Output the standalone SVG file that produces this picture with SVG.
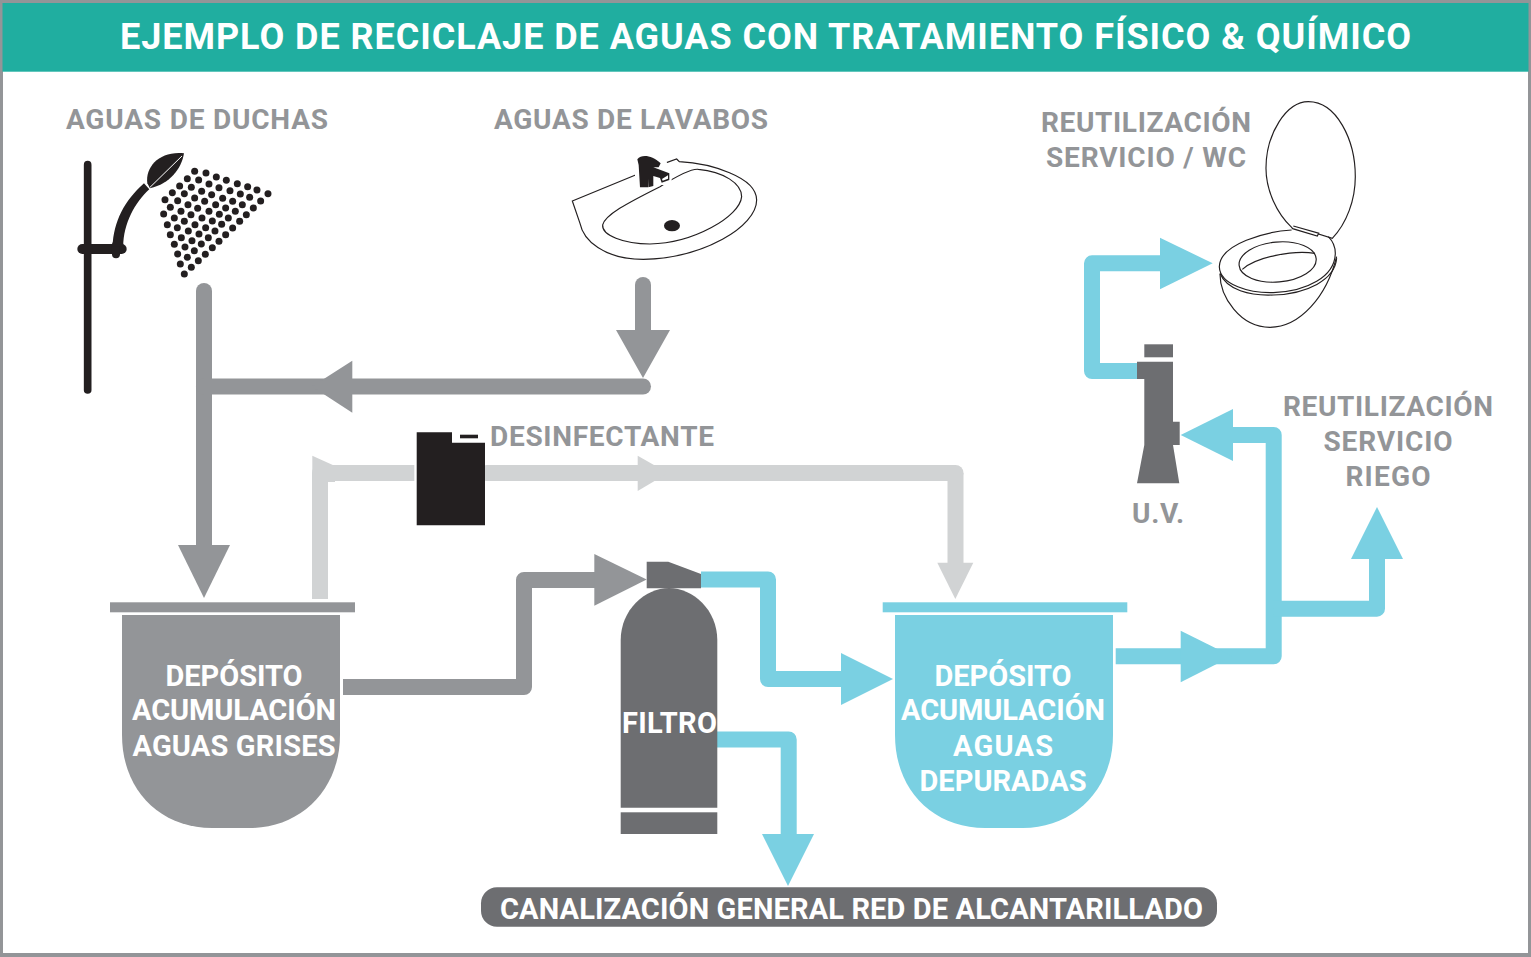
<svg xmlns="http://www.w3.org/2000/svg" width="1531" height="957" viewBox="0 0 1531 957">
<style>
text{font-family:"Roboto","Liberation Sans",sans-serif;font-weight:700;text-anchor:middle}
.lb{fill:#939598;font-size:28px}
.w{fill:#fff;font-size:29px}
.pg,.pl,.pb{fill:none;stroke-width:16;stroke-linejoin:round}
.pg{stroke:#939598}.pl{stroke:#d1d3d4}.pb{stroke:#7ad0e2}
.ag{fill:#939598}.al{fill:#d1d3d4}.ab{fill:#7ad0e2}
.dk{fill:#6d6e71}
.ln{fill:none;stroke:#231f20;stroke-width:3.500}
</style>
<rect x="1.5" y="1.5" width="1528" height="953" fill="#fff" stroke="#939598" stroke-width="3"/>
<rect x="0" y="953" width="1531" height="4" fill="#939598"/>
<g id="title"><rect x="2.500" y="3" width="1526" height="68.700" fill="#20aea0"/>
<text x="765.500" y="48.500" fill="#fff" font-size="36" textLength="1291" lengthAdjust="spacing">EJEMPLO DE RECICLAJE DE AGUAS CON TRATAMIENTO FÍSICO &amp; QUÍMICO</text></g>

<g id="connectors">
<path class="pg" stroke-linecap="round" d="M204 291V550"/>
<path class="pg" d="M643 285V335" stroke-linecap="round"/>
<path class="pg" stroke-linecap="round" d="M643 386.500H204"/>
<path class="pg" d="M343 687H524V580H600"/>
<path class="pl" d="M320 599V473H414.300"/>
<path class="al" d="M312.300 455.700L335 466V482H312.300Z"/>
<path class="pl" stroke-linecap="round" d="M486.700 473H955.500"/>
<path class="pl" d="M955.500 473V570"/>
<path class="pb" d="M701 579.500H768V679H850"/>
<path class="pb" d="M717 739.500H788.700V840"/>
<path class="pb" d="M1115.700 656.300H1273.700V435H1225"/>
<path class="pb" d="M1273.700 608.700H1377V550"/>
<path class="pb" d="M1140 371H1092V263.300H1170"/>
<path class="ag" d="M178 545H230L204 598Z"/>
<path class="ag" d="M616 330H670L643 378Z"/>
<path class="ag" d="M352.300 360.700V412.700L312 386.500Z"/>
<path class="ag" d="M594.300 554V605.700L646.700 579.500Z"/>
<path class="al" d="M637.700 455.700V491L668 473Z"/>
<path class="al" d="M937.300 562.700H973.300L955.300 599Z"/>
<path class="ab" d="M841 653V705L893 679Z"/>
<path class="ab" d="M762 834H814L788 886Z"/>
<path class="ab" d="M1180.700 630.700V682.300L1232 656.300Z"/>
<path class="ab" d="M1233 409V461L1180.700 435Z"/>
<path class="ab" d="M1351 559H1403L1377 507Z"/>
<path class="ab" d="M1160 237.700V289.300L1212.700 263.300Z"/>
</g>

<g id="shower"><text class="lb" x="197" y="128.500" textLength="262" lengthAdjust="spacing">AGUAS DE DUCHAS</text>
<g transform="translate(60 130) scale(.3333)" fill="#231f20">
<path d="M83 104V780" stroke="#231f20" stroke-width="23" stroke-linecap="round"/>
<path d="M67 357H185" stroke="#231f20" stroke-width="30" stroke-linecap="round"/>
<path d="M168 345V373" stroke="#231f20" stroke-width="24" stroke-linecap="round"/>
<path d="M158 350C160 275 195 210 252 160L268 178C225 218 190 280 190 350Z"/>
<path d="M262 160C255 110 300 62 372 70C365 115 330 162 270 175Z"/>
<path d="M270 172L366 78" stroke="#fff" stroke-width="3"/>
<g>
<circle cx="315" cy="209" r="10.500"/><circle cx="337" cy="188" r="10.500"/><circle cx="359" cy="168" r="10.500"/><circle cx="382" cy="146" r="10.500"/><circle cx="404" cy="124" r="10.500"/>
<circle cx="311" cy="252" r="10.500"/><circle cx="331" cy="232" r="10.500"/><circle cx="353" cy="212" r="10.500"/><circle cx="373" cy="191" r="10.500"/><circle cx="394" cy="172" r="10.500"/><circle cx="416" cy="150" r="10.500"/><circle cx="438" cy="129" r="10.500"/>
<circle cx="322" cy="284" r="10.500"/><circle cx="343" cy="264" r="10.500"/><circle cx="363" cy="244" r="10.500"/><circle cx="384" cy="224" r="10.500"/><circle cx="404" cy="204" r="10.500"/><circle cx="425" cy="184" r="10.500"/><circle cx="447" cy="162" r="10.500"/><circle cx="469" cy="141" r="10.500"/>
<circle cx="331" cy="314" r="10.500"/><circle cx="352" cy="293" r="10.500"/><circle cx="373" cy="274" r="10.500"/><circle cx="393" cy="254" r="10.500"/><circle cx="413" cy="235" r="10.500"/><circle cx="434" cy="214" r="10.500"/><circle cx="455" cy="194" r="10.500"/><circle cx="477" cy="173" r="10.500"/><circle cx="499" cy="151" r="10.500"/>
<circle cx="343" cy="343" r="10.500"/><circle cx="364" cy="323" r="10.500"/><circle cx="385" cy="303" r="10.500"/><circle cx="405" cy="284" r="10.500"/><circle cx="426" cy="264" r="10.500"/><circle cx="447" cy="244" r="10.500"/><circle cx="467" cy="224" r="10.500"/><circle cx="488" cy="205" r="10.500"/><circle cx="510" cy="182" r="10.500"/><circle cx="532" cy="161" r="10.500"/>
<circle cx="353" cy="372" r="10.500"/><circle cx="375" cy="351" r="10.500"/><circle cx="396" cy="332" r="10.500"/><circle cx="417" cy="312" r="10.500"/><circle cx="437" cy="293" r="10.500"/><circle cx="457" cy="273" r="10.500"/><circle cx="478" cy="253" r="10.500"/><circle cx="497" cy="234" r="10.500"/><circle cx="518" cy="214" r="10.500"/><circle cx="541" cy="192" r="10.500"/><circle cx="563" cy="170" r="10.500"/>
<circle cx="361" cy="402" r="10.500"/><circle cx="382" cy="382" r="10.500"/><circle cx="403" cy="362" r="10.500"/><circle cx="424" cy="342" r="10.500"/><circle cx="445" cy="323" r="10.500"/><circle cx="465" cy="303" r="10.500"/><circle cx="485" cy="283" r="10.500"/><circle cx="505" cy="264" r="10.500"/><circle cx="526" cy="244" r="10.500"/><circle cx="547" cy="224" r="10.500"/><circle cx="569" cy="202" r="10.500"/><circle cx="591" cy="180" r="10.500"/>
<circle cx="373" cy="432" r="10.500"/><circle cx="394" cy="412" r="10.500"/><circle cx="415" cy="392" r="10.500"/><circle cx="436" cy="373" r="10.500"/><circle cx="457" cy="353" r="10.500"/><circle cx="477" cy="334" r="10.500"/><circle cx="497" cy="314" r="10.500"/><circle cx="518" cy="294" r="10.500"/><circle cx="539" cy="274" r="10.500"/><circle cx="559" cy="254" r="10.500"/><circle cx="580" cy="234" r="10.500"/><circle cx="602" cy="213" r="10.500"/><circle cx="624" cy="191" r="10.500"/>
</g></g></g>

<g id="sink"><text class="lb" x="631" y="128.500" textLength="274" lengthAdjust="spacing">AGUAS DE LAVABOS</text>
<g transform="translate(560 140) scale(.3333)">
<path class="ln" d="M37 183L305 73L350 57L358 65C450 70 590 110 590 180C590 260 430 355 250 358C130 358 70 300 60 250Z"/>
<path class="ln" d="M128 255C135 225 200 190 300 140C340 115 390 85 415 88C490 95 545 130 545 170C540 230 400 310 270 312C190 312 125 285 128 255Z"/>
<ellipse cx="336" cy="257" rx="24" ry="17" fill="#231f20"/>
<path fill="#fff" d="M225 50H310L335 90V135H225Z"/>
<path fill="#231f20" d="M232 58C245 42 275 45 302 70L296 82L280 82L328 100V120L305 128L300 114L280 108V138L265 142V116L264 142H240L236 75Z"/>
<path fill="#fff" d="M306 117L324 106V116L308 122Z"/>
</g></g>

<g id="toilet"><text class="lb" x="1146" y="132" textLength="210" lengthAdjust="spacing">REUTILIZACIÓN</text>
<text class="lb" x="1146" y="167" textLength="200" lengthAdjust="spacing">SERVICIO / WC</text>
<g transform="translate(1060 90) scale(.3333)">
<path class="ln" d="M695 412C650 370 618 300 618 235C618 130 680 35 745 35C830 35 886 150 886 260C886 330 860 400 817 445L775 432L772 438L698 416Z"/>
<path class="ln" d="M700 408L778 430"/>
<path class="ln" d="M480 552C480 620 540 712 630 712C720 712 800 620 830 500"/>
<path class="ln" d="M480 550C500 600 570 618 640 615C740 612 825 570 830 505"/>
<path class="ln" d="M695 420C620 425 480 460 478 530C480 585 570 610 640 608C740 605 825 560 826 490C826 465 815 450 805 440"/>
<ellipse class="ln" cx="653" cy="516" rx="116" ry="60" transform="rotate(-5 653 516)"/>
<path class="ln" d="M547 538C590 500 700 480 765 490"/>
</g></g>

<g id="uv" class="dk"><path d="M1144.300 344.300H1173V357.300H1144.300Z"/>
<path d="M1137 361.700H1173V421.700H1179.700V445H1173L1179.300 483.300H1137L1144.300 445V379H1137Z"/>
<text class="lb" x="1158" y="523" textLength="52" lengthAdjust="spacing">U.V.</text></g>

<g id="riego"><text class="lb" x="1388" y="416" textLength="210" lengthAdjust="spacing">REUTILIZACIÓN</text>
<text class="lb" x="1388" y="451" textLength="129" lengthAdjust="spacing">SERVICIO</text>
<text class="lb" x="1388" y="486" textLength="85" lengthAdjust="spacing">RIEGO</text></g>

<g id="disinfectant"><path fill="#231f20" d="M416.700 432.300H452V442.700H485V525.300H416.700Z"/><rect x="460" y="434.700" width="18" height="3.600" fill="#231f20"/>
<text class="lb" x="602" y="446" textLength="224" lengthAdjust="spacing">DESINFECTANTE</text></g>

<g id="tank-grey"><rect x="110" y="602.300" width="245" height="10" class="ag"/>
<path class="ag" d="M122 615H340V735C340 790 300 828 250 828H212C160 828 122 790 122 735Z"/>
<text class="w" x="234" y="686" textLength="137" lengthAdjust="spacing">DEPÓSITO</text>
<text class="w" x="234" y="720" textLength="204" lengthAdjust="spacing">ACUMULACIÓN</text>
<text class="w" x="234" y="756" textLength="203" lengthAdjust="spacing">AGUAS GRISES</text></g>

<g id="filter"><path class="dk" d="M646.700 561.700H668.300L701 574V588.300H646.700Z"/>
<path class="dk" d="M620.700 640C620.700 610 645 588 669 588C693 588 717.300 610 717.300 640V807.700H620.700Z"/>
<rect class="dk" x="620.700" y="812.300" width="96.600" height="21.700"/>
<text class="w" x="669.500" y="733" textLength="95" lengthAdjust="spacing">FILTRO</text></g>

<g id="tank-blue"><rect x="882.700" y="602.300" width="244.600" height="10" class="ab"/>
<path class="ab" d="M895 615H1113V735C1113 790 1073 828 1023 828H985C933 828 895 790 895 735Z"/>
<text class="w" x="1003" y="686" textLength="137" lengthAdjust="spacing">DEPÓSITO</text>
<text class="w" x="1003" y="720" textLength="204" lengthAdjust="spacing">ACUMULACIÓN</text>
<text class="w" x="1003" y="756" textLength="100" lengthAdjust="spacing">AGUAS</text>
<text class="w" x="1003" y="791" textLength="167" lengthAdjust="spacing">DEPURADAS</text></g>

<g id="sewer"><rect x="481" y="887.300" width="736" height="39.400" rx="16" class="dk"/>
<text class="w" x="851.500" y="919" textLength="703" lengthAdjust="spacing">CANALIZACIÓN GENERAL RED DE ALCANTARILLADO</text></g>
</svg>
